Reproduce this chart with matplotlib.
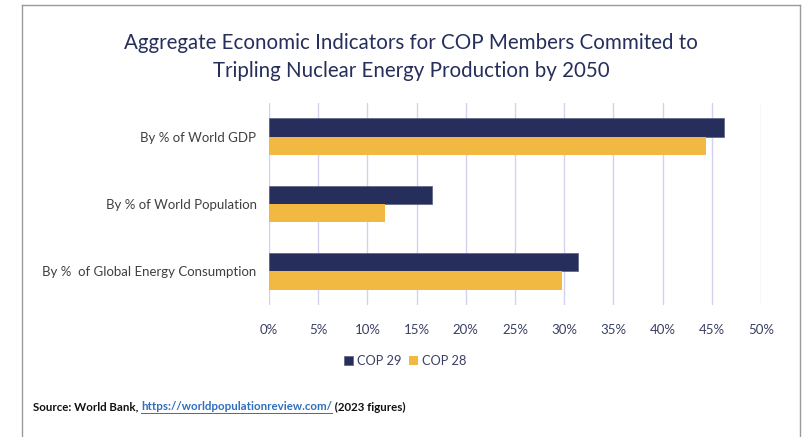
from matplotlib import pyplot as plt
from matplotlib.lines import Line2D
import numpy as np

# values (percent)
categories = ["By % of World GDP", "By % of World Population", "By %  of Global Energy Consumption"]
cop29 = [46.2, 16.6, 31.4]
cop28 = [44.4, 11.8, 29.8]
ticks = [0, 5, 10, 15, 20, 25, 30, 35, 40, 45, 50]

navy = "#262E5C"
gold = "#F2B942"
txt = "#3A3F63"

plt.rcParams['font.family'] = ['Lato', 'DejaVu Sans']

fig = plt.figure(figsize=(8.07, 4.37), dpi=100)
ax = fig.add_axes([269/807, 1 - 305/437, (761 - 269)/807, (305 - 103)/437])

y = np.arange(len(categories))
h = 0.27
ax.barh(y - h/2, cop29, height=h, color=navy, label="COP 29", edgecolor="#5a6080", linewidth=0.5)
ax.barh(y + h/2, cop28, height=h, color=gold, label="COP 28")

ax.set_xlim(0, 50)
ax.set_ylim(len(categories) - 0.5, -0.5)
ax.set_xticks(ticks)
ax.set_xticklabels(["%d%%" % t for t in ticks], color=txt, fontsize=9.5)
ax.set_yticks(y)
ax.set_yticklabels(categories, color="#404040", fontsize=9.5)
ax.tick_params(length=0, pad=14)
ax.tick_params(axis='y', pad=9)
ax.grid(axis='x', color="#D2D2F0", linewidth=1)
ax.set_axisbelow(True)
for s in ax.spines.values():
    s.set_visible(False)

fig.text(411/807, 1 - 57/437, "Aggregate Economic Indicators for COP Members Commited to\nTripling Nuclear Energy Production by 2050",
         ha='center', va='center', fontsize=14.8, color=navy, linespacing=1.45)

fig.legend(loc='center', bbox_to_anchor=(405/807, 1 - 361/437), ncol=2, frameon=False,
           fontsize=9.2, handlelength=0.7, handleheight=0.7, handletextpad=0.3, columnspacing=0.6,
           labelcolor=txt)

# frame around the figure
fig.add_artist(Line2D([22/807, 22/807], [0, 1 - 5/437], transform=fig.transFigure, color="#9a9a9a", lw=1))
fig.add_artist(Line2D([22/807, 800/807], [1 - 5/437, 1 - 5/437], transform=fig.transFigure, color="#9a9a9a", lw=1))
fig.add_artist(Line2D([800/807, 800/807], [1 - 5/437, 0], transform=fig.transFigure, color="#9a9a9a", lw=1))

# source line
ys = 1 - 407/437
t1 = fig.text(33/807, ys, "Source: World Bank, ", fontsize=8.3, weight='bold', color="#111111", va='center')
t2 = fig.text(0, 0, "https://worldpopulationreview.com/", fontsize=8.3, weight='bold', color="#2F6FBF", va='center')
t3 = fig.text(0, 0, " (2023 figures)", fontsize=8.3, weight='bold', color="#111111", va='center')
r = fig.canvas.get_renderer()
b1 = t1.get_window_extent(r)
t2.set_position((b1.x1 / fig.bbox.width, ys))
b2 = t2.get_window_extent(r)
t3.set_position((b2.x1 / fig.bbox.width, ys))
yu = (b2.y0 - 0.5) / fig.bbox.height
fig.add_artist(Line2D([b2.x0 / fig.bbox.width, b2.x1 / fig.bbox.width], [yu, yu],
                      transform=fig.transFigure, color="#2F6FBF", lw=0.7))

plt.savefig("out.png", dpi=100)
